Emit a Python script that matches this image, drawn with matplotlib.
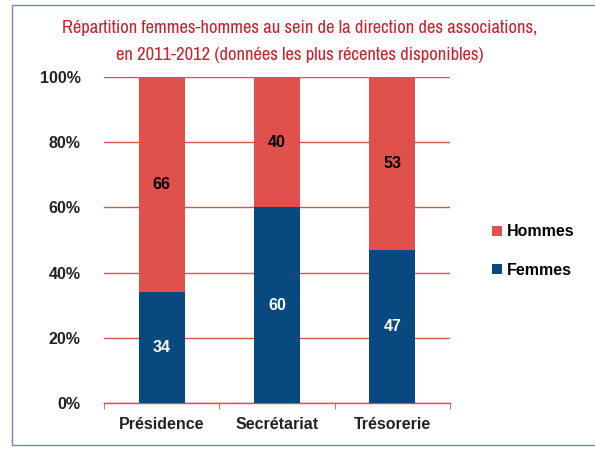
import numpy as np
import matplotlib.pyplot as plt
from matplotlib.patches import Rectangle
from matplotlib import font_manager

categories = ['Présidence', 'Secrétariat', 'Trésorerie']
femmes = [34, 60, 47]
hommes = [66, 40, 53]

red = '#e0504c'
blue = '#084a80'

names = sorted({f.name for f in font_manager.fontManager.ttflist})
narrow = [n for n in names if 'Condensed' in n or 'Narrow' in n]
title_font = narrow[0] if narrow else 'Liberation Sans'
plt.rcParams['font.family'] = ['Liberation Sans', 'DejaVu Sans']

fig = plt.figure(figsize=(5.95, 4.49), dpi=100)
ax = fig.add_axes([104/595, 1-403/449, 346/595, 326/449])

x = np.arange(len(categories))
ax.bar(x, femmes, width=0.4, color=blue, label='Femmes', zorder=3)
ax.bar(x, hommes, width=0.4, bottom=femmes, color=red, label='Hommes', zorder=3)

for i in range(len(categories)):
    ax.text(x[i], femmes[i] / 2, str(femmes[i]), ha='center', va='center',
            color='white', fontsize=11.5, fontweight='bold', zorder=4)
    ax.text(x[i], femmes[i] + hommes[i] / 2, str(hommes[i]), ha='center', va='center',
            color='black', fontsize=11.5, fontweight='bold', zorder=4)

ax.set_xlim(-0.5, 2.5)
ax.set_ylim(0, 100)
ax.set_yticks(range(0, 101, 20))
ax.set_yticklabels([f'{v}%' for v in range(0, 101, 20)], fontsize=11.5, fontweight='bold', color='#222222')
ax.yaxis.grid(True, color=red, linewidth=1, zorder=0)
ax.tick_params(axis='y', length=0, pad=17)

ax.set_xticks(x)
ax.set_xticklabels(categories, fontsize=11.5, fontweight='bold', color='#222222')
ax.set_xticks([-0.5, 0.5, 1.5, 2.5], minor=True)
ax.tick_params(axis='x', which='major', length=0, pad=10)
ax.tick_params(axis='x', which='minor', length=4, color=red, direction='out')

for s in ['top', 'right', 'left']:
    ax.spines[s].set_visible(False)
ax.spines['bottom'].set_color(red)
ax.spines['bottom'].set_linewidth(1)

handles, labels = ax.get_legend_handles_labels()
fig.legend(handles[::-1], labels[::-1], loc='center left', bbox_to_anchor=(478/595, 1-251/449),
           frameon=False, prop={'weight': 'bold', 'size': 11.5}, handlelength=0.6,
           handleheight=0.6, handletextpad=0.3, labelspacing=1.45)

t1 = fig.text(300/595, 1-28/449, 'Répartition femmes-hommes au sein de la direction des associations,',
              ha='center', va='center', color='#c8222c', fontsize=14, family=title_font)
t2 = fig.text(300/595, 1-55/449, 'en 2011-2012 (données les plus récentes disponibles)',
              ha='center', va='center', color='#c8222c', fontsize=14, family=title_font)

# fit first title line to the width seen in the reference (~474 px)
r = fig.canvas.get_renderer()
w = t1.get_window_extent(r).width
size = min(16, 14 * 474 / w)
t1.set_fontsize(size)
t2.set_fontsize(size)

fig.patches.append(Rectangle((12/595, 4/449), 600/595, 440/449, transform=fig.transFigure,
                             fill=False, edgecolor='#7a86b8', linewidth=1))

fig.savefig('out.png', dpi=100)
